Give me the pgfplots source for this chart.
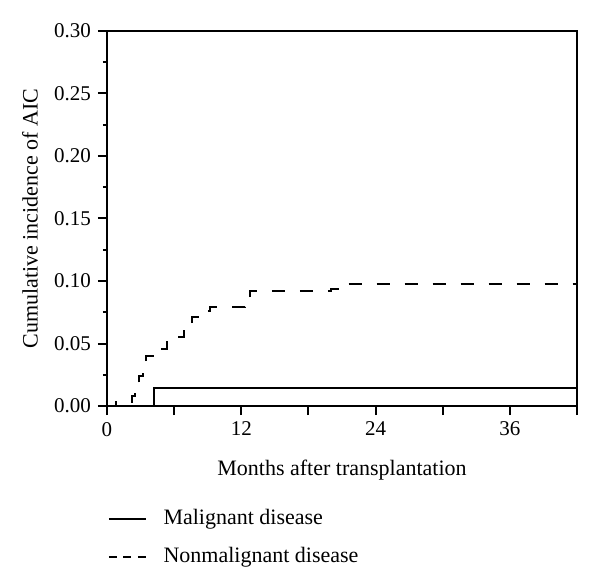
\documentclass[border=0pt]{standalone}
\usepackage{pgfplots}
\pgfplotsset{compat=1.18}
\usepackage{fontspec}
\setmainfont{Liberation Serif}

\begin{document}
\begin{tikzpicture}
\begin{axis}[
  at={(0,0)}, anchor=south west,
  scale only axis,
  width=235pt, height=187.5pt,
  xmin=0, xmax=42, ymin=0, ymax=0.30,
  axis line style={line width=1.2pt},
  tick align=outside, tick pos=left,
  xtick={0,6,...,42},
  xticklabels={0,,12,,24,,36,},
  ytick={0,0.05,0.10,0.15,0.20,0.25,0.30},
  minor ytick={0.025,0.075,0.125,0.175,0.225,0.275},
  major tick length=4.5pt, minor tick length=2pt,
  every tick/.append style={black, line width=1pt},
  /pgf/number format/assume math mode=true,
  yticklabel style={/pgf/number format/.cd, fixed, fixed zerofill, precision=2},
  ticklabel style={font=\fontsize{10.5}{12}\selectfont},
  every axis y label/.style={at={(axis description cs:-0.1638,0.5)}, rotate=90, anchor=center},
  every axis x label/.style={at={(axis description cs:0.5,-0.1707)}, anchor=center},
  label style={font=\fontsize{11}{13}\selectfont},
  xlabel={Months after transplantation},
  ylabel={Cumulative incidence of AIC},
  legend style={at={(axis description cs:0.002,-0.352)}, anchor=west, draw=none, fill=none,
    inner sep=0pt, row sep=9pt,
    font=\fontsize{11}{13}\selectfont,
    nodes={inner sep=0pt, text height=7.5pt, text depth=2.5pt},
    /tikz/every odd column/.append style={column sep=8.5pt}},
  legend cell align=left,
]
% Malignant disease
\addplot[const plot, black, line width=1pt,
  legend image code/.code={\draw[black, line width=0.6pt] (0pt,0pt) -- (18.5pt,0pt);}]
  coordinates {(0,0) (4.2,0.0145) (42,0.0145)};
\addlegendentry{Malignant disease}
% Nonmalignant disease
\addplot[const plot, black, line width=1pt, dash pattern=on 6.5pt off 7.5pt,
  legend image code/.code={\draw[black, line width=0.6pt, dash pattern=on 4pt off 3.25pt] (0pt,0pt) -- (18.5pt,0pt);}]
  coordinates {
    (0,0) (0.8,0.003) (2.2,0.008) (2.5,0.015) (2.9,0.024) (3.2,0.033)
    (3.5,0.040) (4.3,0.046) (5.4,0.051) (6.0,0.055) (6.9,0.060) (7.2,0.066)
    (7.6,0.071) (8.5,0.076) (9.2,0.079) (12.3,0.087) (12.8,0.092)
    (20.0,0.094) (20.6,0.098) (42,0.098)};
\addlegendentry{Nonmalignant disease}
\end{axis}
\pgfresetboundingbox
\path (-53.5pt,-89pt) rectangle (246.5pt,203pt);
\end{tikzpicture}
\end{document}
